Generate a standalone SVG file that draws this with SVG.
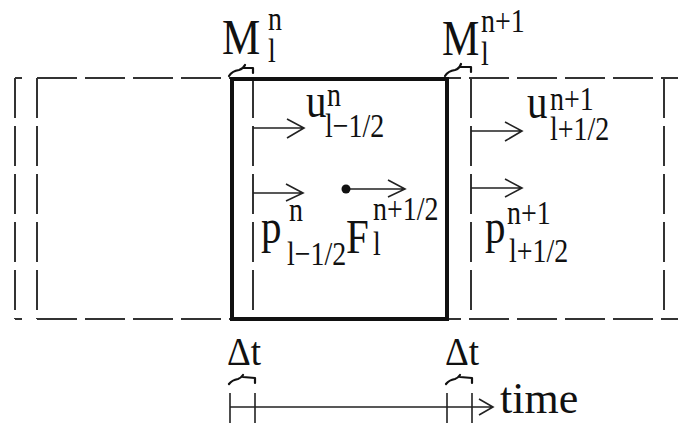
<svg xmlns="http://www.w3.org/2000/svg" width="678" height="423" viewBox="0 0 678 423">
<style>
.dash{stroke:#333;stroke-width:2;stroke-dasharray:40 8;fill:none}
.solid{stroke:#333;stroke-width:2;fill:none}
.box{stroke:#111;stroke-width:4;fill:none}
.ln{stroke:#222;stroke-width:1.6;fill:none}
.br{stroke:#111;stroke-width:2.2;fill:none;stroke-linecap:round;stroke-linejoin:round}
text{font-family:"Liberation Serif","Times New Roman",serif;fill:#111}
.m{font-size:41px}
.s{font-size:28px}
</style>
<rect width="678" height="423" fill="#fff"/>
<g id="frames">
<path class="dash" d="M37,78 H664 M37,319 H664 M15,78 V319 M37,78 V319 M664,78 V319 M253,78 V319 M471,78 V319"/>
<path class="solid" d="M15,78 H22 M15,319 H22 M664,78 H678 M664,319 H678"/>
</g>
<g id="cell">
<rect class="box" x="232" y="79" width="215" height="240"/>
</g>
<g id="connectors">
<path class="ln" d="M253,128 H303 M287,119 L304,128 L287,138"/>
<path class="ln" d="M253,193 H303 M286,184 L303,193 L286,201"/>
<path class="ln" d="M346,189 H405 M388,180 L405,189 L388,197"/>
<circle cx="346" cy="189" r="4.5" fill="#111"/>
<path class="ln" d="M471,131 H521 M505,122 L522,131 L505,141"/>
<path class="ln" d="M471,188 H521 M505,179 L522,188 L505,197"/>
<path class="ln" d="M230,407 H492 M479,399 L493,407 L479,415"/>
<path class="ln" d="M230,393 V423 M255,393 V423 M447,393 V423 M472,393 V423"/>
</g>
<g id="braces">
<path class="br" d="M229,76 Q232,71 239,70 Q243,69 245,65 M244,68 L253,68 L253,73"/>
<path class="br" d="M445,76 Q448,71 455,70 Q459,69 461,64 M460,67 L471,67 L471,72"/>
<path class="br" d="M229,384 Q232,380 238,379 Q241,378 243,375 M243,377 L255,378 L255,383"/>
<path class="br" d="M446,384 Q449,380 455,379 Q458,378 460,375 M460,377 L472,378 L472,383"/>
</g>
<g id="label-M-n" transform="translate(222,54) scale(1,1.2)">
<text class="m" x="0" y="0" style="font-size:43px">M<tspan class="s" x="46" y="-20">n</tspan><tspan class="s" x="46" y="7">l</tspan></text>
</g>
<g id="label-M-n1" transform="translate(442,55) scale(1,1.2)">
<text class="m" x="0" y="0" style="font-size:42px">M<tspan class="s" x="39" y="-19">n+1</tspan><tspan class="s" x="39" y="8.5">l</tspan></text>
</g>
<g id="label-u-left" transform="translate(306,117) scale(1,1.2)">
<text class="m" x="0" y="0">u<tspan class="s" x="21" y="-9">n</tspan><tspan class="s" x="19" y="17">l−1/2</tspan></text>
</g>
<g id="label-p-left" transform="translate(261,243) scale(1,1.2)">
<text class="m" x="0" y="0">p<tspan class="s" x="28" y="-18">n</tspan><tspan class="s" x="26" y="18.5">l−1/2</tspan></text>
</g>
<g id="label-F" transform="translate(346,253) scale(1,1.2)">
<text class="m" x="0" y="0">F<tspan class="s" x="27" y="-27.5">n+1/2</tspan><tspan class="s" x="27" y="1.7">l</tspan></text>
</g>
<g id="label-u-right" transform="translate(527,118) scale(1,1.2)">
<text class="m" x="0" y="0">u<tspan class="s" x="23" y="-6.5">n+1</tspan><tspan class="s" x="23" y="18.5">l+1/2</tspan></text>
</g>
<g id="label-p-right" transform="translate(485,243) scale(1,1.2)">
<text class="m" x="0" y="0">p<tspan class="s" x="22" y="-15.5">n+1</tspan><tspan class="s" x="24" y="16">l+1/2</tspan></text>
</g>
<g id="label-dt">
<text style="font-size:37px" transform="translate(227,365) scale(1,1.1)">Δt</text>
<text style="font-size:37px" transform="translate(445,365) scale(1,1.1)">Δt</text>
</g>
<g id="label-time">
<text style="font-size:44px" x="500" y="413">time</text>
</g>
</svg>
